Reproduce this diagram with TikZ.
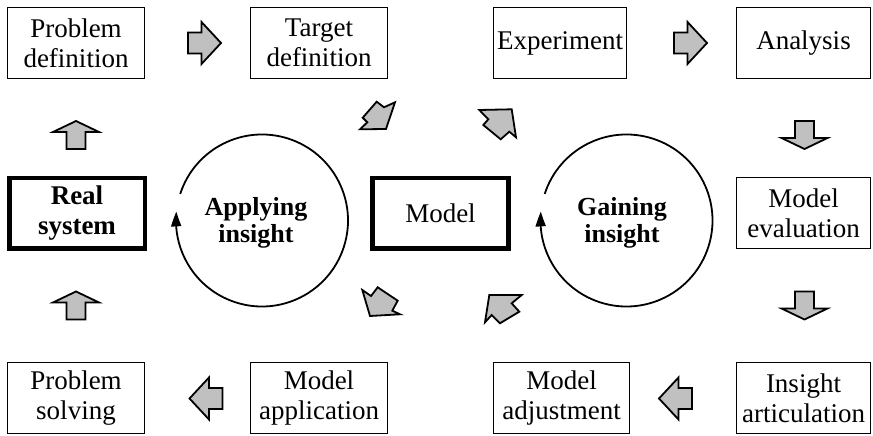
\documentclass[tikz,border=0pt]{standalone}
\usepackage{fontspec}
\setmainfont{Liberation Serif}
\usetikzlibrary{arrows.meta,bending}
\definecolor{arrowgray}{RGB}{192,192,192}
\begin{document}
\begin{tikzpicture}[x=1pt,y=1pt,
  txt/.style={font=\fontsize{27}{30}\selectfont, align=center},
  box/.style={txt, draw, line width=1.5pt, inner sep=0pt,
    minimum width=137pt, minimum height=71pt},
  thickbox/.style={box, line width=4.5pt, minimum width=135.5pt, minimum height=70.5pt},
  arrowfill/.style={draw, fill=arrowgray, line width=1.8pt, line join=miter},
  cycle arc/.style={line width=1.8pt, -{Triangle[length=15pt,width=10pt,bend]}},
  pics/harrow/.style={code={
    \draw[arrowfill] (-16.5,-10.5) -- (-3,-10.5) -- (-3,-21) -- (16.5,0)
      -- (-3,21) -- (-3,10.5) -- (-16.5,10.5) -- cycle;}},
  pics/varrow/.style={code={
    \draw[arrowfill] (-14,-9.5) -- (3,-9.5) -- (3,-23) -- (14,0)
      -- (3,23) -- (3,9.5) -- (-14,9.5) -- cycle;}}
]
\useasboundingbox (0,0) rectangle (873,436);

% top row
\node[box] (pdef) at (76,393)    {Problem\\definition};
\node[box] (tdef) at (319,393)   {Target\\definition};
\node[box, minimum width=133pt] (exp) at (560,393) {Experiment};
\node[box, minimum width=134pt] (ana) at (803.5,393) {Analysis};

% middle row
\node[thickbox] (real) at (77,222.5) {\bfseries Real\\\bfseries system};
\node[thickbox, minimum width=136pt] (model) at (440.5,222.5) {Model};
\node[box, minimum width=134pt] (meval) at (803.5,223) {Model\\evaluation};

% bottom row
\node[box] (psolv) at (76,38)   {Problem\\solving};
\node[box] (mapp) at (319,38)   {Model\\application};
\node[box, minimum width=136pt] (madj) at (561.5,38) {Model\\adjustment};
\node[box, minimum width=134pt] (iart) at (803.5,38) {Insight\\articulation};

% the two cycles
\coordinate (applyc) at (262,215.5);
\coordinate (gainc) at (626.5,215.5);
\draw[cycle arc] (applyc) ++(162:86) arc[start angle=162, end angle=-186, radius=86];
\draw[cycle arc] (gainc) ++(162:86) arc[start angle=162, end angle=-186, radius=86];
\node[txt, font=\fontsize{26}{27}\selectfont\bfseries] (applyt) at (256,213) {Applying\\insight};
\node[txt, font=\fontsize{26}{27}\selectfont\bfseries] (gaint) at (622,213) {Gaining\\insight};

% straight block arrows between the boxes
\pic at (204.5,393) {harrow};
\pic at (690.5,393) {harrow};
\pic[rotate=90] at (76,301) {varrow};
\pic[rotate=90] at (76,130.5) {varrow};
\pic[rotate=-90] at (804.5,301) {varrow};
\pic[rotate=-90] at (804.5,130.5) {varrow};
\pic[rotate=180] at (206,37.5) {harrow};
\pic[rotate=180] at (675.5,37.5) {harrow};

% slanted block arrows around the model
\draw[arrowfill] (395,333.7) -- (386,307) -- (360,306.7) -- (367.3,313.7)
  -- (362.7,318.3) -- (376.7,334.3) -- (384,328.7) -- cycle;
\draw[arrowfill] (479.3,326) -- (511.7,326.7) -- (516,298.7) -- (509.3,304.3)
  -- (500.7,296.7) -- (483.3,311) -- (488.3,316.7) -- cycle;
\draw[arrowfill] (370,120) -- (362.3,146) -- (371,140) -- (377.7,148.7)
  -- (397.7,135.3) -- (392.3,125.3) -- (400,121.7) -- cycle;
\draw[arrowfill] (489.3,141) -- (521.7,141) -- (511.7,132.7) -- (519.3,124.3)
  -- (500,112.7) -- (491.7,121) -- (485,113.7) -- cycle;
\end{tikzpicture}
\end{document}
